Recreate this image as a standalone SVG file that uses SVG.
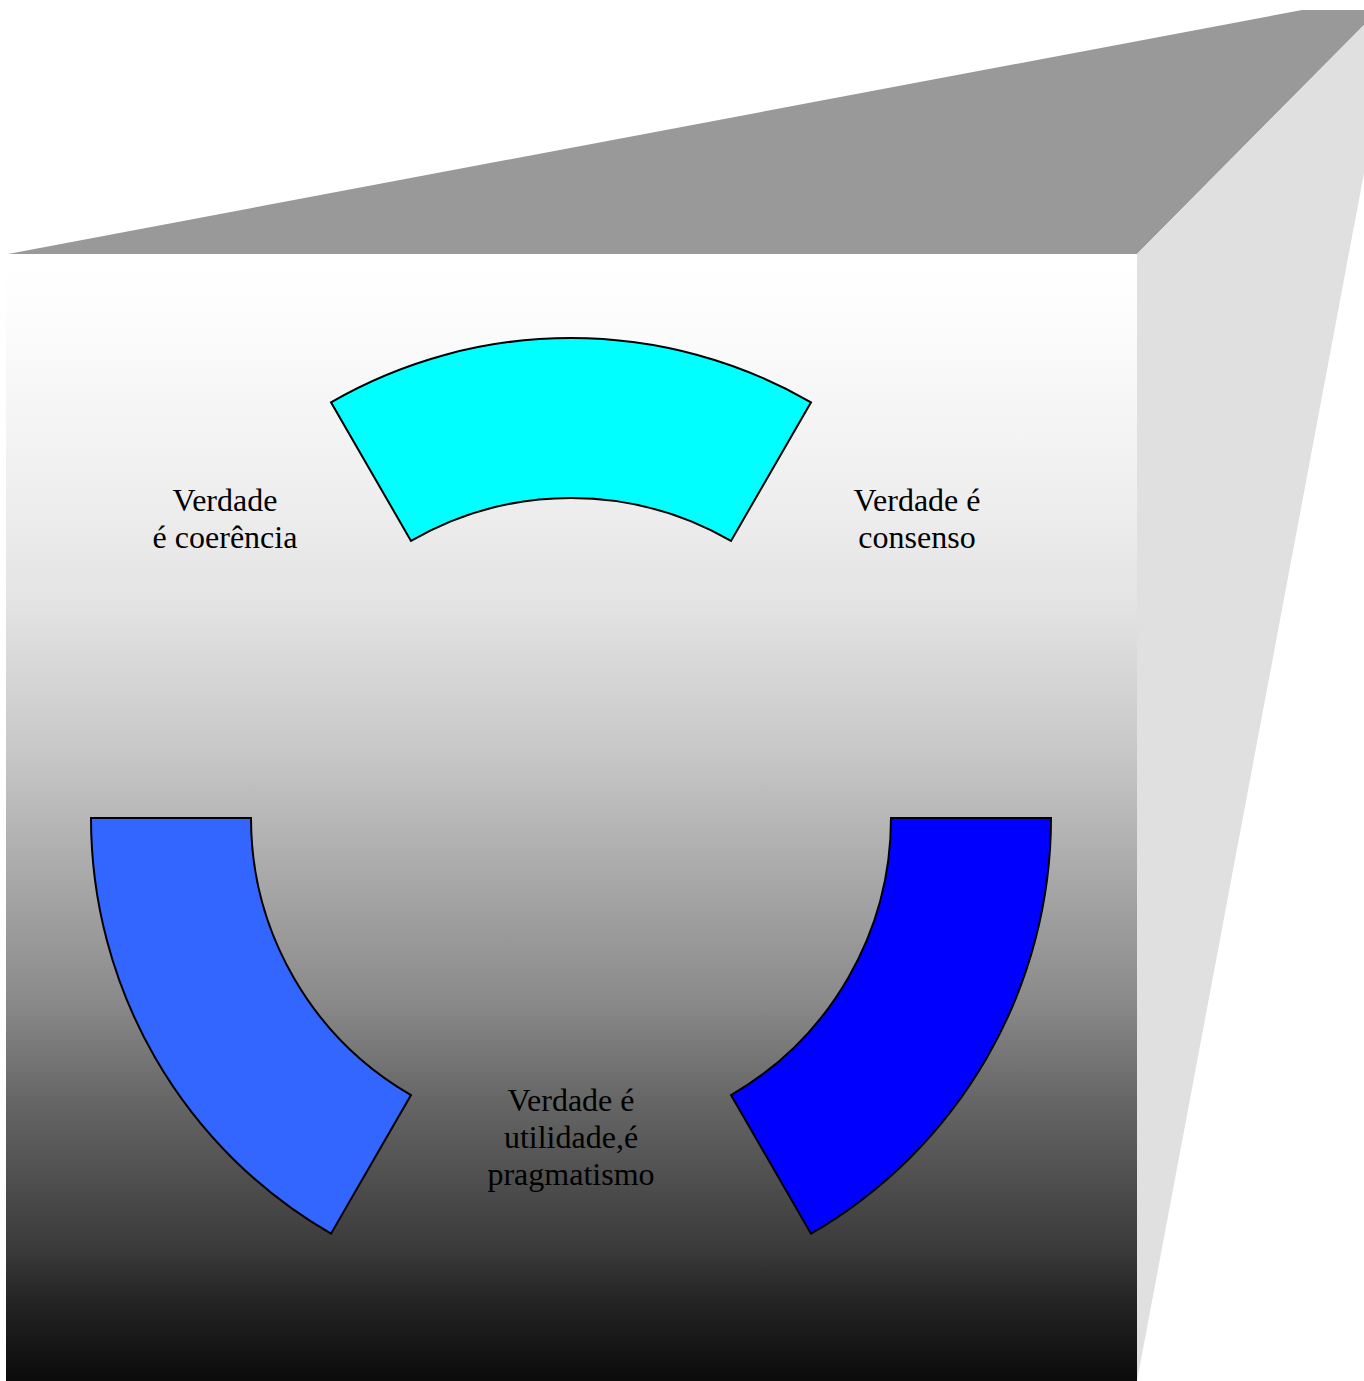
<svg xmlns="http://www.w3.org/2000/svg" width="1364" height="1381" viewBox="0 0 1364 1381">
  <defs>
    <linearGradient id="frontShade" x1="0" y1="254" x2="0" y2="1381" gradientUnits="userSpaceOnUse">
      <stop offset="0" stop-color="#ffffff"/>
      <stop offset="0.05" stop-color="#fdfdfd"/>
      <stop offset="0.218" stop-color="#eeeeee"/>
      <stop offset="0.307" stop-color="#e4e4e4"/>
      <stop offset="0.44" stop-color="#c8c8c8"/>
      <stop offset="0.573" stop-color="#a3a3a3"/>
      <stop offset="0.662" stop-color="#8a8a8a"/>
      <stop offset="0.751" stop-color="#666666"/>
      <stop offset="0.884" stop-color="#3a3a3a"/>
      <stop offset="0.928" stop-color="#242424"/>
      <stop offset="1" stop-color="#0b0b0b"/>
    </linearGradient>
  </defs>
  <style>
    .segment { stroke: #000000; stroke-width: 2; stroke-linejoin: miter; }
    .label { font-family: "Liberation Serif", "Times New Roman", serif; font-size: 32px; fill: #000000; text-anchor: middle; }
  </style>

  <!-- box -->
  <g id="box">
    <polygon id="box-top" points="8,254 1302,10 1364,10 1364,25 1137,254" fill="#999999"/>
    <polygon id="box-side" points="1137,254 1364,25 1364,173 1137,1381" fill="#e0e0e0"/>
    <rect id="box-front" x="6" y="254" width="1131" height="1127" fill="url(#frontShade)"/>
  </g>

  <!-- ring segments, centre (571,818), radii 480 / 320 -->
  <g id="segment-top">
    <path class="segment" fill="#00ffff" d="M331,402.3 A480,480 0 0 1 811,402.3 L731,540.9 A320,320 0 0 0 411,540.9 Z"/>
  </g>
  <g id="segment-left">
    <path class="segment" fill="#3366ff" d="M91,818 L251,818 A320,320 0 0 0 411,1095.1 L331,1233.7 A480,480 0 0 1 91,818 Z"/>
  </g>
  <g id="segment-right">
    <path class="segment" fill="#0000ff" d="M891,818 L1051,818 A480,480 0 0 1 811,1233.7 L731,1095.1 A320,320 0 0 0 891,818 Z"/>
  </g>

  <!-- labels -->
  <g id="label-coerencia">
    <text class="label" x="225" y="511">Verdade</text>
    <text class="label" x="225" y="548">é coerência</text>
  </g>
  <g id="label-consenso">
    <text class="label" x="917" y="511">Verdade é</text>
    <text class="label" x="917" y="548">consenso</text>
  </g>
  <g id="label-pragmatismo">
    <text class="label" x="571" y="1111">Verdade é</text>
    <text class="label" x="571" y="1148">utilidade,é</text>
    <text class="label" x="571" y="1185">pragmatismo</text>
  </g>

  <g id="connectors"/>
</svg>
